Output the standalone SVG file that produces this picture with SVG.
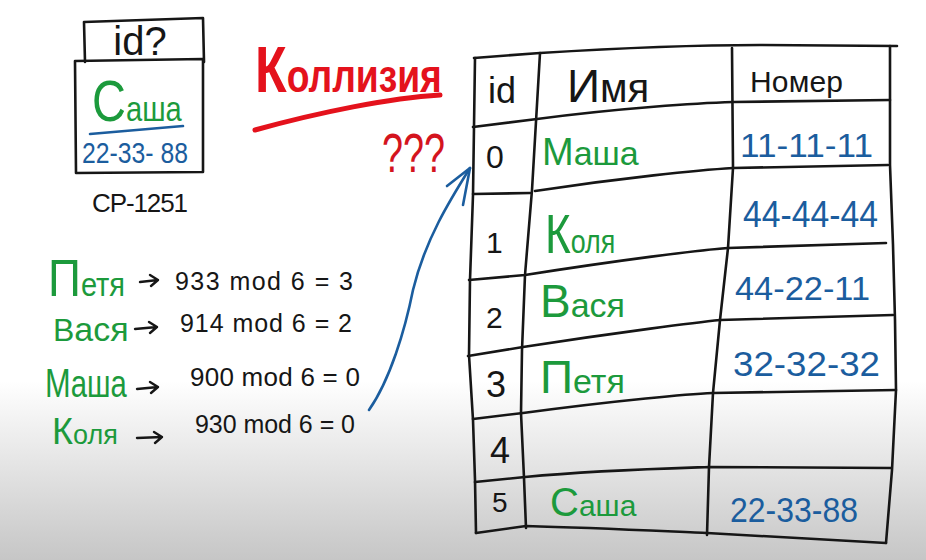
<svg xmlns="http://www.w3.org/2000/svg" width="926" height="560" viewBox="0 0 926 560">
<defs>
<linearGradient id="bg" x1="0" y1="0" x2="0" y2="560" gradientUnits="userSpaceOnUse">
<stop offset="0" stop-color="#ffffff"/>
<stop offset="0.68" stop-color="#ffffff"/>
<stop offset="1" stop-color="#c6c6c6"/>
</linearGradient>
<style>
text{font-family:"Liberation Sans","DejaVu Sans",sans-serif;}
.k{fill:#161616;}
.g{fill:#1c9a3c;}
.b{fill:#1b5d9e;}
.r{fill:#e4121c;}
.ln{fill:none;stroke:#161616;stroke-width:2.6;stroke-linecap:round;stroke-linejoin:round;}
.ar{fill:none;stroke:#161616;stroke-width:2.4;stroke-linecap:round;stroke-linejoin:round;}
.bl{fill:none;stroke:#1b5d9e;stroke-width:2.6;stroke-linecap:round;stroke-linejoin:round;}
</style>
</defs>
<rect x="0" y="0" width="926" height="560" fill="url(#bg)"/>

<g id="card">
<path class="ln" d="M85,62 L84,22 L203,18 L204,62"/>
<path class="ln" d="M75,61 L203,59 L203,172 L76,173 Z"/>
<text class="k" x="140" y="55" font-size="40" text-anchor="middle">id?</text>
<text class="g" transform="translate(92,121) scale(0.81,1)"><tspan font-size="58">С</tspan><tspan font-size="36">аша</tspan></text>
<path class="bl" d="M90,134 L183,126"/>
<text class="b" x="82" y="163" font-size="29" textLength="106" lengthAdjust="spacingAndGlyphs">22-33- 88</text>
<text class="k" x="92" y="212" font-size="26" textLength="96" lengthAdjust="spacing">CP-1251</text>
</g>

<g id="title">
<text class="r" font-weight="bold" transform="translate(255,92) scale(0.81,1)"><tspan font-size="64">К</tspan><tspan font-size="46">оллизия</tspan></text>
<path d="M255,130 C320,112 390,98 440,95" fill="none" stroke="#e4121c" stroke-width="5" stroke-linecap="round"/>
<text x="382" y="172" font-size="56" fill="#d4141e" textLength="63" lengthAdjust="spacingAndGlyphs">???</text>
</g>

<g id="hashes">
<text class="g" transform="translate(48,296) scale(0.88,1)"><tspan font-size="52">П</tspan><tspan font-size="33">етя</tspan></text>
<text class="k" x="175" y="290" font-size="25" textLength="178" lengthAdjust="spacing">933 mod 6 = 3</text>
<text class="g" x="53" y="341"><tspan font-size="32">В</tspan><tspan font-size="34">ася</tspan></text>
<text class="k" x="180" y="332" font-size="25" textLength="172" lengthAdjust="spacing">914 mod 6 = 2</text>
<text class="g" transform="translate(45,397) scale(0.77,1)"><tspan font-size="40">М</tspan><tspan font-size="38">аша</tspan></text>
<text class="k" x="190" y="386" font-size="26" textLength="170" lengthAdjust="spacing">900 mod 6 = 0</text>
<text class="g" x="52" y="444"><tspan font-size="36">К</tspan><tspan font-size="27">оля</tspan></text>
<text class="k" x="195" y="433" font-size="25" textLength="160" lengthAdjust="spacing">930 mod 6 = 0</text>
</g>

<g id="table">
<path class="ln" d="M474,58 L540,53 C620,48 700,45 760,45 L897,46"/>
<path class="ln" d="M475,58 L473,195 L470,280 L469,355 L473,420 L475,480 L476,533"/>
<path class="ln" d="M890,46 L890,165 L893,245 L895,320 L896,390 L892,470 L886,543"/>
<path class="ln" d="M476,533 L526,526 C600,528 680,532 707,533 L886,543"/>
<path class="ln" d="M540,53 L532,190 L525,275 L522,350 L521,413 L524,478 L526,528"/>
<path class="ln" d="M732,48 L733,168 L728,248 L720,320 L713,393 L709,467 L707,535"/>
<path class="ln" d="M473,127 L537,119 C620,108 700,103 733,102 L890,100"/>
<path class="ln" d="M473,194 L530,193 M535,191 C620,178 700,170 733,168 L888,165"/>
<path class="ln" d="M469,280 L525,275 C620,260 700,250 728,248 L886,243"/>
<path class="ln" d="M468,356 L523,347 C620,332 700,322 720,320 L893,315"/>
<path class="ln" d="M473,419 L523,413 C620,400 690,394 713,393 L896,390"/>
<path class="ln" d="M475,482 L525,477 C600,470 680,468 709,467 L891,468"/>

<text class="k" x="488" y="103" font-size="36">id</text>
<text class="k" x="567" y="102"><tspan font-size="46">И</tspan><tspan font-size="40">мя</tspan></text>
<text class="k" x="750" y="92" font-size="30" textLength="93" lengthAdjust="spacing">Номер</text>

<text class="k" x="486" y="168" font-size="32">0</text>
<text class="g" x="542" y="165"><tspan font-size="38">М</tspan><tspan font-size="34">аша</tspan></text>
<text class="b" x="740" y="157" font-size="33" textLength="133" lengthAdjust="spacingAndGlyphs">11-11-11</text>

<text class="k" x="486" y="253" font-size="30">1</text>
<text class="g" transform="translate(545,253) scale(0.79,1)"><tspan font-size="56">К</tspan><tspan font-size="34">оля</tspan></text>
<text class="b" x="743" y="227" font-size="36" textLength="135" lengthAdjust="spacingAndGlyphs">44-44-44</text>

<text class="k" x="486" y="328" font-size="30">2</text>
<text class="g" x="540" y="317"><tspan font-size="46">В</tspan><tspan font-size="34">ася</tspan></text>
<text class="b" x="735" y="300" font-size="33" textLength="135" lengthAdjust="spacingAndGlyphs">44-22-11</text>

<text class="k" x="486" y="397" font-size="36">3</text>
<text class="g" x="540" y="393"><tspan font-size="46">П</tspan><tspan font-size="34">етя</tspan></text>
<text class="b" x="733" y="376" font-size="35" textLength="147" lengthAdjust="spacingAndGlyphs">32-32-32</text>

<text class="k" x="490" y="463" font-size="36">4</text>

<text class="k" x="492" y="512" font-size="28">5</text>
<text class="g" x="550" y="516"><tspan font-size="40">С</tspan><tspan font-size="30">аша</tspan></text>
<text class="b" x="730" y="522" font-size="35" textLength="128" lengthAdjust="spacingAndGlyphs">22-33-88</text>
</g>

<g id="connectors">
<path class="ar" d="M140,282 L158,280 M150,275 L158,280 L151,286"/>
<path class="ar" d="M135,329 L157,327 M149,322 L157,327 L150,333"/>
<path class="ar" d="M137,389 L158,387 M150,382 L158,387 L151,393"/>
<path class="ar" d="M137,438 L162,437 M154,432 L162,437 L155,443"/>
<path class="bl" d="M369,410 C390,380 405,330 413,290 C425,240 450,200 470,168"/>
<path class="bl" d="M447,186 L470,168 L463,205"/>
</g>
</svg>
